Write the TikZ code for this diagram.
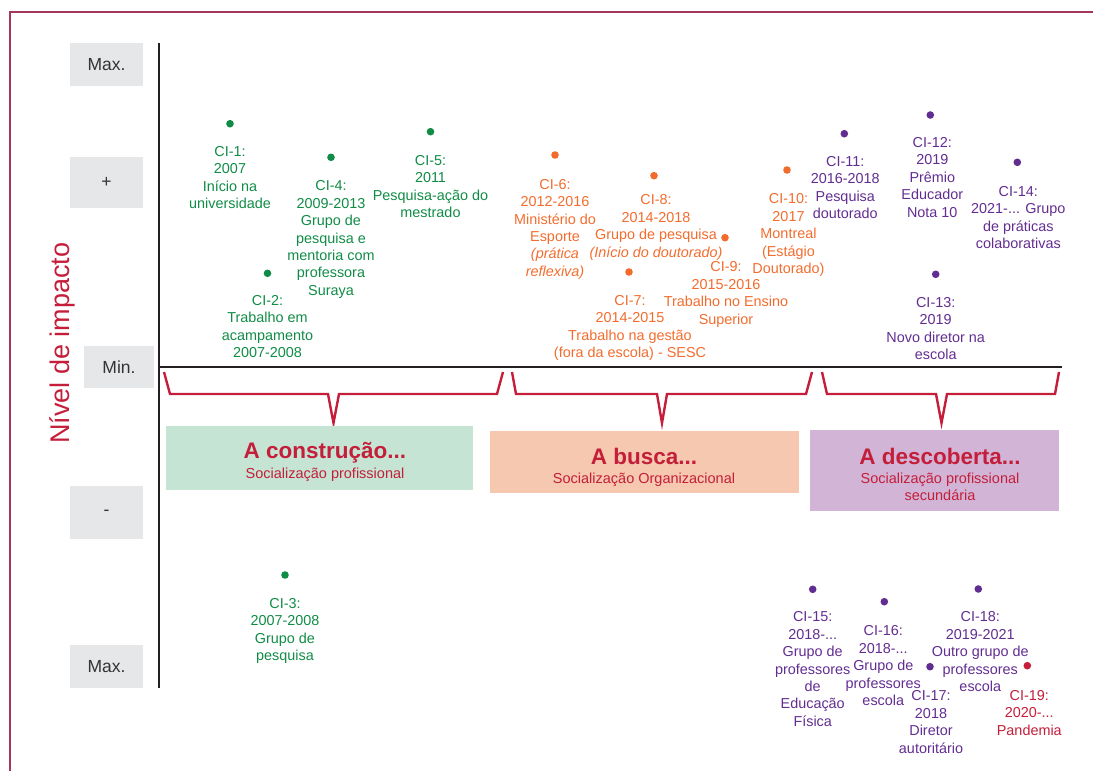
\documentclass[tikz,border=0pt]{standalone}
\usepackage{fontspec}
\setmainfont{Liberation Sans}
\usetikzlibrary{positioning}
\definecolor{frame}{RGB}{163,55,93}
\definecolor{axis}{RGB}{35,31,32}
\definecolor{cred}{RGB}{196,30,58}
\definecolor{cg}{RGB}{16,140,70}
\definecolor{co}{RGB}{242,108,45}
\definecolor{cp}{RGB}{98,45,145}
\definecolor{graybox}{RGB}{230,231,232}
\definecolor{fillg}{RGB}{197,228,212}
\definecolor{fillo}{RGB}{245,200,175}
\definecolor{fillp}{RGB}{209,180,214}
\begin{document}
\begin{tikzpicture}[x=1pt,y=-1pt,
  dot/.style={circle,fill=#1,inner sep=0pt,minimum size=7.6pt},
  lab/.style={text=#1,align=center,inner sep=0pt,font=\fontsize{14.4}{17.4}\selectfont},
  scalebox/.style={fill=graybox,inner sep=0pt,text=black!80,font=\fontsize{17.5}{19}\selectfont},
  phase/.style={inner sep=0pt,draw=none},
  ptitle/.style={anchor=base,inner sep=0pt,text=cred,font=\fontsize{22.5}{24}\selectfont\bfseries},
  psub/.style={anchor=base,inner sep=0pt,text=cred,font=\fontsize{14.5}{16}\selectfont},
  brace/.style={draw=cred,line width=2.4pt,line join=miter}
]
\useasboundingbox (0,0) rectangle (1093,771);
% frame
\draw[frame,line width=2.2pt] (10,771) -- (10,12) -- (1093,12);

% scale boxes
\node[scalebox,minimum width=73pt,minimum height=43pt] (smax) at (106.5,64.5) {Max.};
\node[scalebox,minimum width=73pt,minimum height=51pt] (splus) at (106.5,182.5) {+};
\node[scalebox,minimum width=70pt,minimum height=42pt] (smin) at (119,367) {Min.};
\node[scalebox,minimum width=73pt,minimum height=53pt] (sminus) at (106.5,512.5) {-};
\node[scalebox,minimum width=73pt,minimum height=43pt] (smaxb) at (106.5,666.5) {Max.};

\node[rotate=90,text=cred,inner sep=0pt,font=\fontsize{27}{30}\selectfont] (ylab) at (62,343) {Nível de impacto};

% axes
\coordinate (atop) at (159,43);
\coordinate (abot) at (159,688);
\coordinate (aleft) at (159,367);
\coordinate (aright) at (1062,367);
\draw[axis,line width=2.4pt] (atop) -- (abot);
\draw[axis,line width=2.4pt] (aleft) -- (aright);

% braces
\draw[brace] (164,372) -- (170,394) -- (328,394) -- (333.5,423) -- (339,394) -- (497,394) -- (503,372);
\draw[brace] (512,372) -- (516,394) -- (657,394) -- (662,423) -- (667,394) -- (806,394) -- (812,372);
\draw[brace] (822,372) -- (827,394) -- (936,394) -- (941.5,423) -- (947,394) -- (1055,394) -- (1059,372);

% phase boxes
\node[phase,fill=fillg,minimum width=307pt,minimum height=64pt] (b1) at (319.5,458) {};
\node[phase,fill=fillo,minimum width=309pt,minimum height=62pt] (b2) at (644,462) {};
\node[phase,fill=fillp,minimum width=249pt,minimum height=81pt] (b3) at (934.5,470.5) {};
\node[ptitle] (t1) at (325,458) {A construção...};
\node[psub] (s1) at (325,478.8) {Socialização profissional};
\node[ptitle] (t2) at (644,464.5) {A busca...};
\node[psub] (s2) at (644,483.3) {Socialização Organizacional};
\node[ptitle] (t3) at (940,464) {A descoberta...};
\node[psub] (s3) at (940,483) {Socialização profissional};
\node[psub] (s3b) at (940,500.5) {secundária};

% green
\node[dot=cg] (d1) at (230,123.7) {};
\node[lab=cg,below=18.3pt of d1] (l1) {CI-1:\\2007\\Início na\\universidade};
\node[dot=cg] (d2) at (267.5,273.3) {};
\node[lab=cg,below=17.7pt of d2] (l2) {CI-2:\\Trabalho em\\acampamento\\2007-2008};
\node[dot=cg] (d3) at (285,575) {};
\node[lab=cg,below=19.3pt of d3] (l3) {CI-3:\\2007-2008\\Grupo de\\pesquisa};
\node[dot=cg] (d4) at (331,157.3) {};
\node[lab=cg,below=19.3pt of d4] (l4) {CI-4:\\2009-2013\\Grupo de\\pesquisa e\\mentoria com\\professora\\Suraya};
\node[dot=cg] (d5) at (430.5,131.7) {};
\node[lab=cg,below=19.3pt of d5] (l5) {CI-5:\\2011\\Pesquisa-ação do\\mestrado};

% orange
\node[dot=co] (d6) at (555,155) {};
\node[lab=co,below=20pt of d6] (l6) {CI-6:\\2012-2016\\Ministério do\\Esporte\\\textit{(prática}\\\textit{reflexiva)}};
\node[dot=co] (d7) at (629,272) {};
\node[lab=co,below=19pt of d7,xshift=1pt] (l7) {CI-7:\\2014-2015\\Trabalho na gestão\\(fora da escola) - SESC};
\node[dot=co] (d8) at (654,175.7) {};
\node[lab=co,below=15pt of d8,xshift=2pt] (l8) {CI-8:\\2014-2018\\Grupo de pesquisa\\\textit{(Início do doutorado)}};
\node[dot=co] (d9) at (725,237.7) {};
\node[lab=co,below=20pt of d9,xshift=1pt] (l9) {CI-9:\\2015-2016\\Trabalho no Ensino\\Superior};
\node[dot=co] (d10) at (787,170) {};
\node[lab=co,below=19.7pt of d10,xshift=1.5pt] (l10) {CI-10:\\2017\\Montreal\\(Estágio\\Doutorado)};

% purple
\node[dot=cp] (d11) at (844.3,133.7) {};
\node[lab=cp,below=18.3pt of d11,xshift=1pt] (l11) {CI-11:\\2016-2018\\Pesquisa\\doutorado};
\node[dot=cp] (d12) at (930.3,115) {};
\node[lab=cp,below=18.3pt of d12,xshift=2pt] (l12) {CI-12:\\2019\\Prêmio\\Educador\\Nota 10};
\node[dot=cp] (d13) at (935.7,274.3) {};
\node[lab=cp,below=18.7pt of d13] (l13) {CI-13:\\2019\\Novo diretor na\\escola};
\node[dot=cp] (d14) at (1017.3,162.3) {};
\node[lab=cp,below=19.7pt of d14,xshift=1pt] (l14) {CI-14:\\2021-... Grupo\\de práticas\\colaborativas};
\node[dot=cp] (d15) at (812.7,589.3) {};
\node[lab=cp,below=18.3pt of d15] (l15) {CI-15:\\2018-...\\Grupo de\\professores\\de\\Educação\\Física};
\node[dot=cp] (d16) at (884.3,601.7) {};
\node[lab=cp,below=20pt of d16,xshift=-1pt] (l16) {CI-16:\\2018-...\\Grupo de\\professores\\escola};
\node[dot=cp] (d17) at (930,666.7) {};
\node[lab=cp,below=20pt of d17,xshift=1pt] (l17) {CI-17:\\2018\\Diretor\\autoritário};
\node[dot=cp] (d18) at (978.3,589) {};
\node[lab=cp,below=18.7pt of d18,xshift=2pt] (l18) {CI-18:\\2019-2021\\Outro grupo de\\professores\\escola};
\node[dot=cred] (d19) at (1027.3,665.7) {};
\node[lab=cred,below=20.3pt of d19,xshift=2pt] (l19) {CI-19:\\2020-...\\Pandemia};
\end{tikzpicture}
\end{document}
